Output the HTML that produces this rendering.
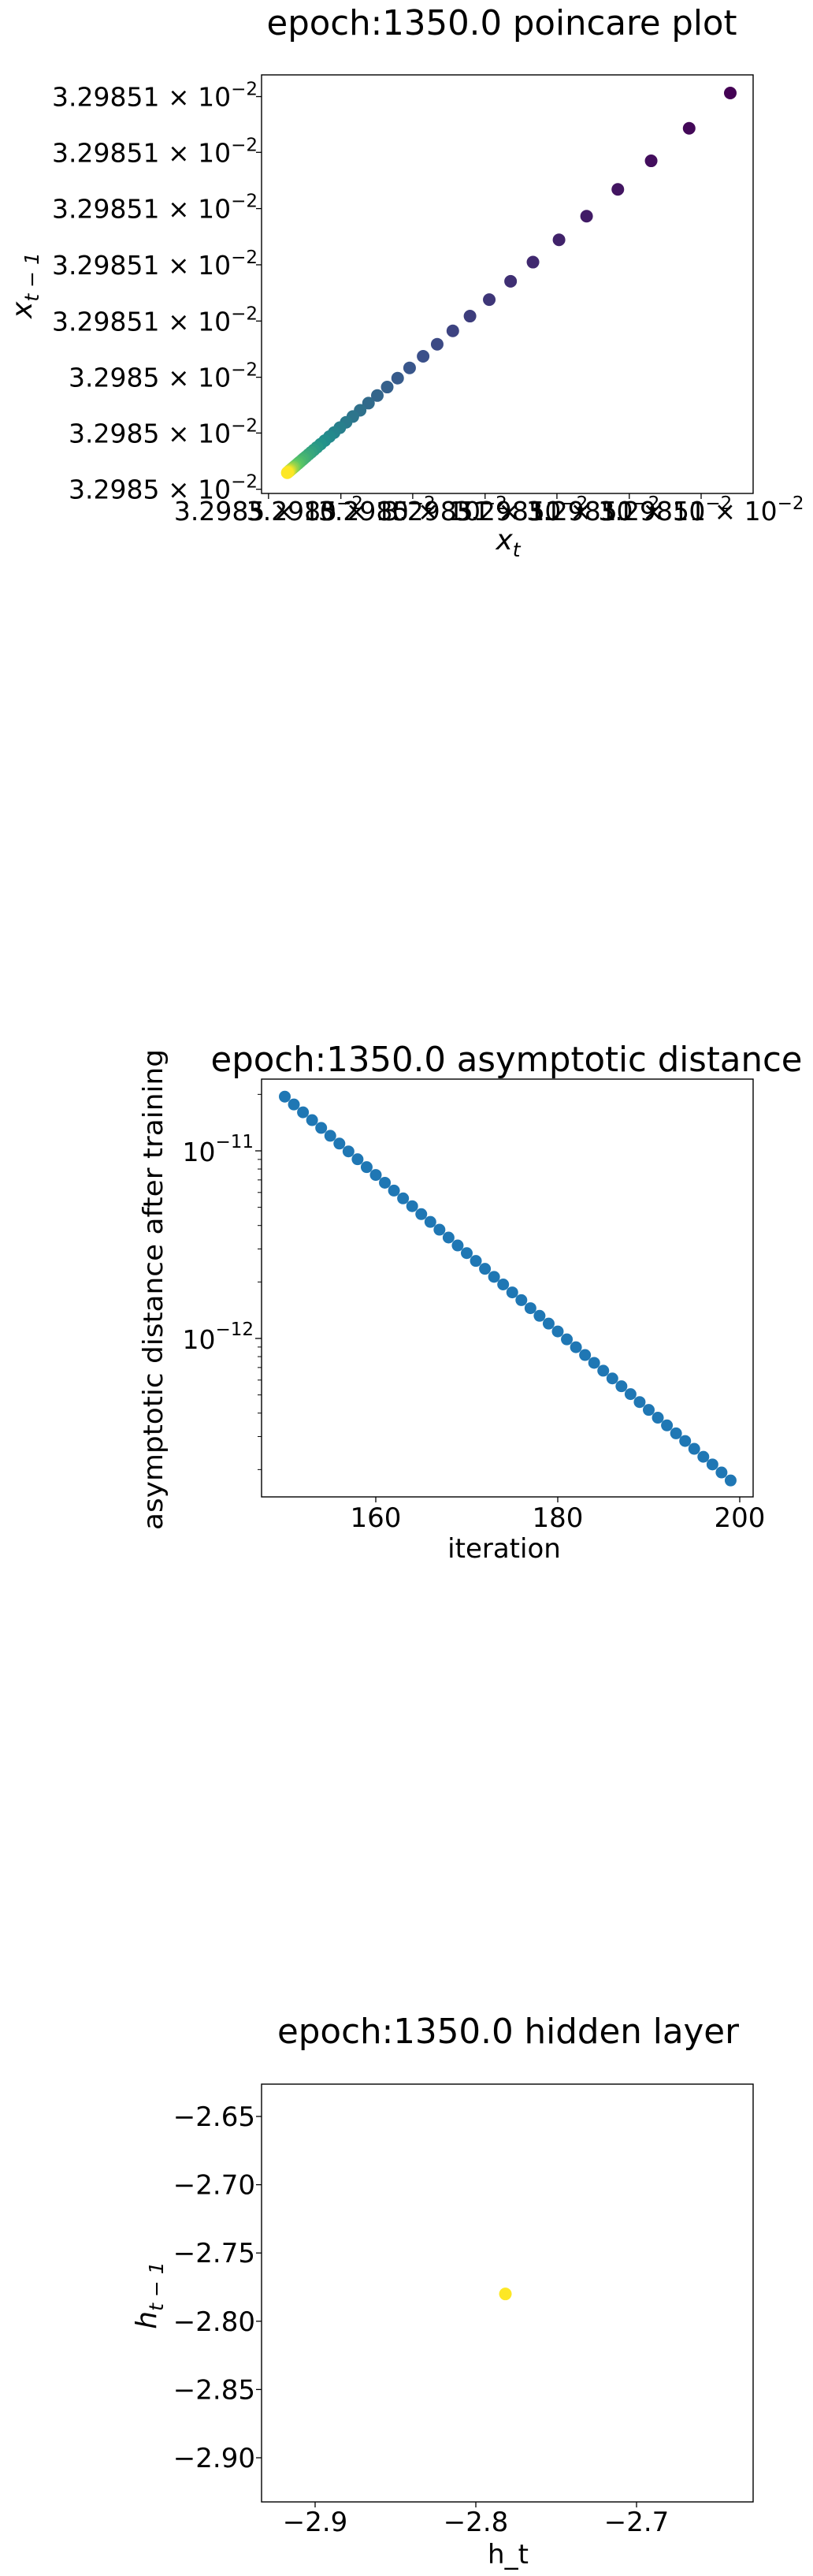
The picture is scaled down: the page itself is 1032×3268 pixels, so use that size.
<!DOCTYPE html>
<html><head><meta charset="utf-8"><style>
html,body{margin:0;padding:0;background:#fff;}
svg{display:block;font-family:"DejaVu Sans","Liberation Sans",sans-serif;}
</style></head><body>
<svg id="fig" width="1032" height="3268" viewBox="0 0 1032 3268" xmlns="http://www.w3.org/2000/svg">
<rect width="1032" height="3268" fill="#fff"/>
<g id="p1"></g>
<g id="p2"></g>
<g id="p3"></g>
</svg>
<script>
// ---- Plot 1 data (offsets from fixed point, arbitrary units) ----
const p1X = [855,776,703,639,579,526,476,433,392,355,322,292,265,239,216,196,177,160,144,130,117,105,94,85,76,68,61,55,50,45,40,36,33,29,26,24,21,19,17,16,14,13,11,10,9,8,7,6,5,4];
const p1Y = [855,776,703,639,579,526,476,433,392,355,322,292,265,239,216,196,177,160,144,130,117,105,94,85,76,68,61,55,50,45,40,36,33,29,26,24,21,19,17,16,14,13,11,10,9,8,7,6,5,4];
const p1XTicks = [-32,107,245,384,522,661,799];
const p1XTickLabels = ["3.2985","3.2985","3.2985","3.29851","3.29851","3.29851","3.29851"];
const p1YTicks = [-33,93,218,344,470,596,722,847];
const p1YTickLabels = ["3.2985","3.2985","3.2985","3.29851","3.29851","3.29851","3.29851","3.29851"];
// ---- Plot 2 data ----
const p2Iter = [];
for (let k = 150; k <= 199; k++) p2Iter.push(k);
const p2Dist = [1.945e-11,1.767e-11,1.605e-11,1.458e-11,1.325e-11,1.203e-11,1.093e-11,9.93e-12,9.02e-12,8.19e-12,7.44e-12,6.76e-12,6.14e-12,5.58e-12,5.07e-12,4.60e-12,4.18e-12,3.80e-12,3.45e-12,3.13e-12,2.85e-12,2.59e-12,2.35e-12,2.13e-12,1.94e-12,1.76e-12,1.60e-12,1.45e-12,1.32e-12,1.20e-12,1.09e-12,9.89e-13,8.98e-13,8.16e-13,7.41e-13,6.73e-13,6.12e-13,5.56e-13,5.05e-13,4.58e-13,4.16e-13,3.78e-13,3.44e-13,3.12e-13,2.84e-13,2.58e-13,2.34e-13,2.13e-13,1.93e-13,1.75e-13];
const p2XTicks = [160,180,200];
const p2YMajor = [-11,-12];
// ---- Plot 3 data ----
const p3X = [-2.7816];
const p3Y = [-2.780];
const p3XTicks = [-2.9,-2.8,-2.7];
const p3YTicks = [-2.65,-2.70,-2.75,-2.80,-2.85,-2.90];

const NS = "http://www.w3.org/2000/svg";
function mk(parent, tag, attrs, text){
  const e = document.createElementNS(NS, tag);
  for (const k in attrs) e.setAttribute(k, attrs[k]);
  if (text !== undefined) e.textContent = text;
  parent.appendChild(e); return e;
}
function viridis(t){
  const s=[[68,1,84],[59,82,139],[33,145,140],[94,201,98],[253,231,37]];
  const p=t*4, i=Math.min(3,Math.floor(p)), f=p-i;
  const c=s[i].map((v,j)=>Math.round(v+(s[i+1][j]-v)*f));
  return "rgb("+c.join(",")+")";
}
function frame(g, L, T, R, B){
  const r = mk(g,"rect",{x:L,y:T,width:R-L,height:B-T,fill:"none",stroke:"#000","stroke-width":1.4});
  
  
}
function title(g, txt, cx, y, len){
  const t = mk(g,"text",{x:cx,y:y,"text-anchor":"middle","font-size":44,textLength:len,lengthAdjust:"spacingAndGlyphs"},txt);
  
  
}

// ================= Plot 1 =================
(function(){
  const g = document.getElementById("p1");
  const L=332,T=95,R=956,B=626;
  const x = d => 362 + d/855*(927-362);
  const y = d => 602 - d/855*(602-118);
  title(g,"epoch:1350.0 poincare plot",637,44,597);
  frame(g,L,T,R,B);
  p1YTicks.forEach((v,i)=>{
    const py=y(v);
    const tk = mk(g,"line",{x1:L-7,x2:L,y1:py,y2:py,stroke:"#000","stroke-width":1.3});
    
    
    const t = mk(g,"text",{x:327,y:py+12,"text-anchor":"end","font-size":33});
    
    
    mk(t,"tspan",{},p1YTickLabels[i]+" \u00d7 10");
    mk(t,"tspan",{dy:-14,"font-size":23},"\u22122");
  });
  p1XTicks.forEach((v,i)=>{
    const px=x(v);
    const tk = mk(g,"line",{x1:px,x2:px,y1:B,y2:B+7,stroke:"#000","stroke-width":1.3});
    
    
    const t = mk(g,"text",{x:px,y:660,"text-anchor":"middle","font-size":33});
    
    
    mk(t,"tspan",{},p1XTickLabels[i]+" \u00d7 10");
    mk(t,"tspan",{dy:-14,"font-size":23},"\u22122");
  });
  p1X.forEach((v,i)=>{
    const c = mk(g,"circle",{cx:x(v),cy:y(p1Y[i]),r:8,fill:viridis(i/(p1X.length-1))});
    
    
  });
  const xl = mk(g,"text",{x:645,y:697,"text-anchor":"middle","font-size":36,"font-style":"italic"});
  
  
  mk(xl,"tspan",{},"x");
  mk(xl,"tspan",{dy:9,"font-size":25},"t");
  const yl = mk(g,"text",{x:0,y:0,"text-anchor":"middle","font-size":36,"font-style":"italic",transform:"translate(40,362) rotate(-90)"});
  
  
  mk(yl,"tspan",{},"x");
  mk(yl,"tspan",{dy:9,"font-size":25},"t \u2212 1");
})();

// ================= Plot 2 =================
(function(){
  const g = document.getElementById("p2");
  const L=332,T=1369,R=956,B=1899;
  const x = v => 477 + (v-160)*(939-477)/40;
  const y = v => 1460 - (Math.log10(v)+11)*238;
  title(g,"epoch:1350.0 asymptotic distance",643,1359,751);
  frame(g,L,T,R,B);
  p2YMajor.forEach(e=>{
    const py=y(Math.pow(10,e));
    const tk = mk(g,"line",{x1:L-8,x2:L,y1:py,y2:py,stroke:"#000","stroke-width":1.3});
    
    
    const t = mk(g,"text",{x:322,y:py+13,"text-anchor":"end","font-size":33});
    
    
    mk(t,"tspan",{},"10");
    mk(t,"tspan",{dy:-17,"font-size":23},"\u2212"+(-e));
  });
  [-13,-12,-11].forEach(e=>{
    for(let m=2;m<=9;m++){
      const v=m*Math.pow(10,e), py=y(v);
      if(py<T||py>B) continue;
      const tk = mk(g,"line",{x1:L-5,x2:L,y1:py,y2:py,stroke:"#000","stroke-width":1});
      
      
    }
  });
  p2XTicks.forEach(v=>{
    const px=x(v);
    const tk = mk(g,"line",{x1:px,x2:px,y1:B,y2:B+7,stroke:"#000","stroke-width":1.3});
    
    
    const t = mk(g,"text",{x:px,y:1937,"text-anchor":"middle","font-size":34},String(v));
    
    
  });
  p2Iter.forEach((v,i)=>{
    const c = mk(g,"circle",{cx:x(v),cy:y(p2Dist[i]),r:7.5,fill:"#1f77b4"});
    
    
  });
  const xl = mk(g,"text",{x:640,y:1976,"text-anchor":"middle","font-size":34},"iteration");
  
  
  const yl = mk(g,"text",{x:0,y:0,"text-anchor":"middle","font-size":34,textLength:610,lengthAdjust:"spacingAndGlyphs",transform:"translate(206,1636) rotate(-90)"},"asymptotic distance after training");
  
  
})();

// ================= Plot 3 =================
(function(){
  const g = document.getElementById("p3");
  const L=332,T=2644,R=956,B=3174;
  const x = v => 400 + (v+2.9)*2040;
  const y = v => 2685 + (-2.65 - v)*1732;
  title(g,"epoch:1350.0 hidden layer",645,2592,586);
  frame(g,L,T,R,B);
  p3YTicks.forEach(v=>{
    const py=y(v);
    const tk = mk(g,"line",{x1:L-7,x2:L,y1:py,y2:py,stroke:"#000","stroke-width":1.3});
    
    
    const t = mk(g,"text",{x:324,y:py+12,"text-anchor":"end","font-size":34},"\u2212"+Math.abs(v).toFixed(2));
    
    
  });
  p3XTicks.forEach(v=>{
    const px=x(v);
    const tk = mk(g,"line",{x1:px,x2:px,y1:B,y2:B+7,stroke:"#000","stroke-width":1.3});
    
    
    const t = mk(g,"text",{x:px,y:3211,"text-anchor":"middle","font-size":34},"\u2212"+Math.abs(v).toFixed(1));
    
    
  });
  p3X.forEach((v,i)=>{
    const c = mk(g,"circle",{cx:x(v),cy:y(p3Y[i]),r:8,fill:"#fde725"});
    
    
  });
  const xl = mk(g,"text",{x:645,y:3252,"text-anchor":"middle","font-size":34},"h_t");
  
  
  const yl = mk(g,"text",{x:0,y:0,"text-anchor":"middle","font-size":36,"font-style":"italic",transform:"translate(198,2912) rotate(-90)"});
  
  
  mk(yl,"tspan",{},"h");
  mk(yl,"tspan",{dy:9,"font-size":25},"t \u2212 1");
})();
</script>
</body></html>
